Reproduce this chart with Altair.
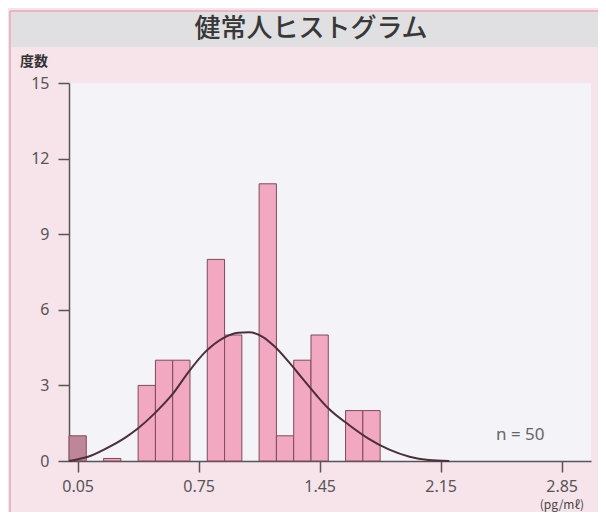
import altair as alt
import pandas as pd

# ---- data ----
bin_start = [0.0, 0.2, 0.4, 0.5, 0.6, 0.8, 0.9, 1.1, 1.2, 1.3, 1.4, 1.6, 1.7]
bin_end = [0.1, 0.3, 0.5, 0.6, 0.7, 0.9, 1.0, 1.2, 1.3, 1.4, 1.5, 1.7, 1.8]
counts = [1, 0.1, 3, 4, 4, 8, 5, 11, 1, 4, 5, 2, 2]
group = ["low", "normal", "normal", "normal", "normal", "normal", "normal",
         "normal", "normal", "normal", "normal", "normal", "normal"]

curve_x = [0.0, 0.13, 0.23, 0.33, 0.40, 0.50, 0.60, 0.69, 0.79, 0.89, 0.98, 1.04,
           1.12, 1.19, 1.27, 1.35, 1.43, 1.50, 1.62, 1.73, 1.85, 1.97, 2.08, 2.20]
curve_y = [0.0, 0.22, 0.55, 0.95, 1.30, 1.92, 2.66, 3.52, 4.34, 4.87, 5.09, 5.11,
           4.93, 4.54, 3.94, 3.28, 2.62, 2.09, 1.43, 0.90, 0.46, 0.17, 0.04, 0.0]

x_ticks = [0.05, 0.75, 1.45, 2.15, 2.85]
y_ticks = [0, 3, 6, 9, 12, 15]

title_text = "健常人ヒストグラム"
y_title = "度数"
unit_text = "(pg/mℓ)"
n_text = "n = 50"

bars_df = pd.DataFrame({"start": bin_start, "end": bin_end, "count": counts, "group": group})
curve_df = pd.DataFrame({"x": curve_x, "y": curve_y})
one = pd.DataFrame({"k": [0]})

FONT = "Noto Sans CJK JP"
PINK = "#f7e4eb"
PLOT_BG = "#f4f3f7"

xscale = alt.Scale(domain=[0, 3.02], nice=False, zero=False)
yscale = alt.Scale(domain=[0, 15], nice=False)

# decorations
border_left = alt.Chart(one).mark_rule(color="#e8a6ba", strokeWidth=1.5).encode(
    x=alt.value(-59), y=alt.value(-72), y2=alt.value(460))
border_top = alt.Chart(one).mark_rule(color="#e8a6ba", strokeWidth=1.5).encode(
    x=alt.value(-59), x2=alt.value(540), y=alt.value(-72))
title_bar = alt.Chart(one).mark_rect(color="#e0dfe1").encode(
    x=alt.value(-58), x2=alt.value(540), y=alt.value(-71), y2=alt.value(-36))
title = alt.Chart(one).mark_text(
    text=title_text, font=FONT, fontSize=26, fontWeight=500, color="#383838",
    align="center", baseline="middle").encode(x=alt.value(242), y=alt.value(-54))
ytitle = alt.Chart(one).mark_text(
    text=y_title, font=FONT, fontSize=14, fontWeight="bold", color="#333333",
    align="left", baseline="middle").encode(x=alt.value(-49), y=alt.value(-21))
unit = alt.Chart(one).mark_text(
    text=unit_text, font=FONT, fontSize=12, color="#444444",
    align="right", baseline="middle").encode(x=alt.value(515), y=alt.value(422))
ntext = alt.Chart(one).mark_text(
    text=n_text, font="Noto Sans", fontSize=17, color="#666666",
    align="left", baseline="middle").encode(x=alt.value(427), y=alt.value(352))

bars = alt.Chart(bars_df).mark_rect(stroke="#7c4b5b", strokeWidth=1).encode(
    x=alt.X("start:Q", scale=xscale,
            axis=alt.Axis(values=x_ticks, format=".2f", title=None, grid=False,
                          labelFontSize=16, labelColor="#555555", labelFont="Noto Sans",
                          tickSize=11, tickColor="#555555", tickWidth=1.5,
                          domainColor="#555555", domainWidth=1.5, labelPadding=6)),
    x2="end:Q",
    y=alt.Y("count:Q", scale=yscale,
            axis=alt.Axis(values=y_ticks, title=None, grid=False,
                          labelFontSize=16, labelColor="#555555", labelFont="Noto Sans",
                          tickSize=11, tickColor="#555555", tickWidth=1.5,
                          domainColor="#555555", domainWidth=1.5, labelPadding=9)),
    y2=alt.datum(0),
    color=alt.Color("group:N", scale=alt.Scale(domain=["low", "normal"],
                                               range=["#bf8598", "#f3a8c1"]), legend=None),
)

curve = alt.Chart(curve_df).mark_line(color="#4b2f3a", strokeWidth=2, interpolate="monotone").encode(
    x=alt.X("x:Q", scale=xscale), y=alt.Y("y:Q", scale=yscale))

chart = alt.layer(title_bar, border_left, border_top, title, ytitle, bars, curve, ntext, unit).properties(
    width=522, height=378,
    autosize=alt.AutoSizeParams(type="none"),
    padding={"left": 61, "top": 75, "right": 7, "bottom": 51},
    background=PINK,
).configure_view(fill=PLOT_BG, stroke=None)

chart.save("out.html", embed_options={"renderer": "svg", "actions": False})
